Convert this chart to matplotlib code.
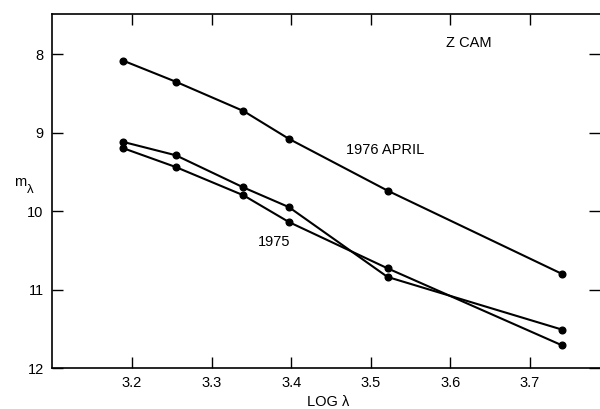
import matplotlib
matplotlib.use("Agg")
import matplotlib.pyplot as plt

plt.rcParams['font.family'] = ['Liberation Sans', 'DejaVu Sans']

log_lambda = [3.189, 3.255, 3.340, 3.397, 3.521, 3.740]
april_1976 = [8.085, 8.353, 8.726, 9.08, 9.74, 10.80]
series_1975_a = [9.12, 9.29, 9.70, 9.95, 10.84, 11.51]
series_1975_b = [9.20, 9.44, 9.80, 10.14, 10.73, 11.71]

xticks = [3.2, 3.3, 3.4, 3.5, 3.6, 3.7]
yticks = [8, 9, 10, 11, 12]

fig = plt.figure(figsize=(6.0, 4.09), dpi=100)
ax = fig.add_axes([52/600, 41/409, 548/600, 354/409])

for ys in (april_1976, series_1975_a, series_1975_b):
    ax.plot(log_lambda, ys, color='black', lw=1.5, marker='o', ms=4.8,
            mfc='black', mec='black')

ax.set_xlim(3.0994, 3.788)
ax.set_ylim(12, 7.49)
ax.set_xticks(xticks)
ax.set_xticklabels([f"{v:.1f}" for v in xticks])
ax.set_yticks(yticks)
ax.set_yticklabels([str(v) for v in yticks])

ax.tick_params(direction='in', length=8, width=1.0, labelsize=10.5,
               top=True, right=True, pad=6)
ax.spines['right'].set_visible(False)
for s in ('left', 'top', 'bottom'):
    ax.spines[s].set_linewidth(1.2)

ax.text(3.623, 7.86, 'Z CAM', ha='center', va='center', fontsize=10.5)
ax.text(3.518, 9.22, '1976 APRIL', ha='center', va='center', fontsize=10.5)
ax.text(3.378, 10.39, '1975', ha='center', va='center', fontsize=10.5)

fig.text(328/600, 1 - 402/409, 'LOG λ', ha='center', va='center', fontsize=10.5)
fig.text(20/600, 1 - 182/409, 'm', ha='center', va='center', fontsize=10.5)
fig.text(27/600, 1 - 190/409, 'λ', ha='left', va='center', fontsize=9.5)

fig.savefig('out.png', dpi=100)
